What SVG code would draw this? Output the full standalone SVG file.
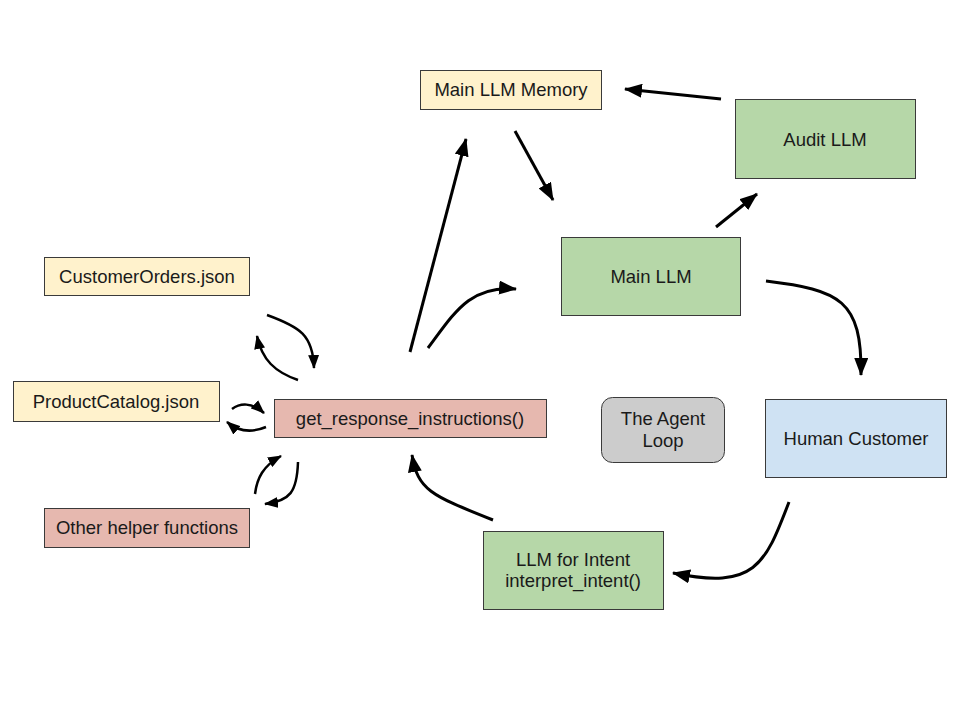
<svg xmlns="http://www.w3.org/2000/svg" width="960" height="720" viewBox="0 0 960 720">
<style>
.box{stroke:#3a3a3a;stroke-width:1}
.y{fill:#fff2cc}.g{fill:#b6d7a8}.r{fill:#e6b8af}.b{fill:#cfe2f3}.k{fill:#cccccc}
text{font-family:"Liberation Sans",Arial,sans-serif;font-size:18.5px;fill:#1a1a1a;text-anchor:middle}
.c path{fill:none;stroke:#000;stroke-width:3;marker-end:url(#ah)}
.c path.s{stroke-width:2.5;marker-end:url(#ahs)}
</style>
<defs>
<marker id="ah" markerUnits="userSpaceOnUse" markerWidth="18" markerHeight="14" viewBox="0 0 18 14" refX="17" refY="7" orient="auto">
<path d="M0,0 L18,7 L0,14 z" fill="#000"/>
</marker>
<marker id="ahs" markerUnits="userSpaceOnUse" markerWidth="14" markerHeight="11" viewBox="0 0 14 11" refX="13" refY="5.5" orient="auto">
<path d="M0,0 L14,5.5 L0,11 z" fill="#000"/>
</marker>
</defs>
<rect width="960" height="720" fill="#fff"/>
<g id="memory"><rect class="box y" x="420.5" y="70.5" width="181" height="39"/><text x="511" y="96">Main LLM Memory</text></g>
<g id="audit"><rect class="box g" x="735.5" y="99.5" width="180" height="79"/><text x="825" y="146">Audit LLM</text></g>
<g id="mainllm"><rect class="box g" x="561.5" y="237.5" width="179" height="78"/><text x="651" y="283">Main LLM</text></g>
<g id="orders"><rect class="box y" x="44.5" y="257.5" width="205" height="38"/><text x="147" y="283">CustomerOrders.json</text></g>
<g id="catalog"><rect class="box y" x="13.5" y="381.5" width="206" height="40"/><text x="116" y="408">ProductCatalog.json</text></g>
<g id="getresp"><rect class="box r" x="274.5" y="399.5" width="272" height="38"/><text x="410" y="425">get_response_instructions()</text></g>
<g id="helpers"><rect class="box r" x="44.5" y="508.5" width="205" height="39"/><text x="147" y="534">Other helper functions</text></g>
<g id="agentloop"><rect class="box k" x="601.5" y="397.5" width="123" height="65" rx="11"/><text x="663" y="425">The Agent</text><text x="663" y="447">Loop</text></g>
<g id="human"><rect class="box b" x="765.5" y="399.5" width="181" height="78"/><text x="856" y="445">Human Customer</text></g>
<g id="intent"><rect class="box g" x="483.5" y="531.5" width="180" height="78"/><text x="573" y="566">LLM for Intent</text><text x="573" y="587">interpret_intent()</text></g>
<g id="connectors" class="c">
<path d="M721,99 L625,89"/>
<path d="M515,131 L553,200"/>
<path d="M410,352 L466,139"/>
<path d="M428,348 C455,312 470,285 516,289"/>
<path d="M716,227 L757,194"/>
<path d="M766,281 C840,290 862,300 861,375"/>
<path d="M789,502 C765,565 755,590 673,573"/>
<path d="M493,520 C430,495 418,490 412,455"/>
<path class="s" d="M267,315 C300,327 313,335 314,368"/>
<path class="s" d="M298,380 C275,372 262,360 257,336"/>
<path class="s" d="M232,409 C240,403 252,402 264,413"/>
<path class="s" d="M266,427 C254,432 240,433 227,422"/>
<path class="s" d="M255,494 C257,478 263,466 281,456"/>
<path class="s" d="M298,462 C297,492 290,501 265,504"/>
</g>
</svg>
